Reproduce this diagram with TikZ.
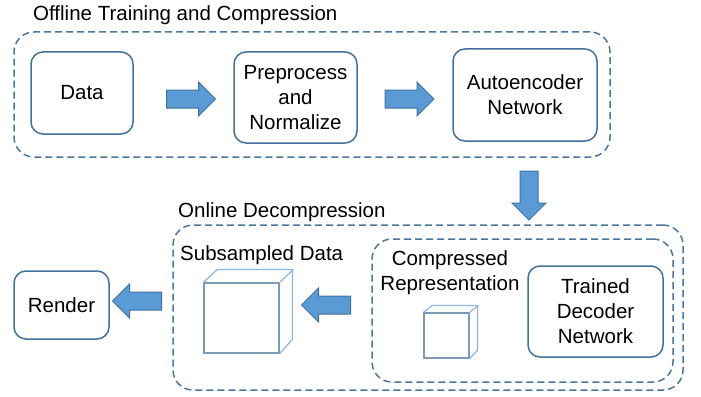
\documentclass[tikz,border=0pt]{standalone}
\usepackage{fontspec}
\setmainfont{Liberation Sans}
\usetikzlibrary{shapes.arrows}
\definecolor{boxline}{HTML}{41719C}
\definecolor{dashline}{HTML}{4A76A0}
\definecolor{arrowfill}{HTML}{5B9BD5}
\definecolor{arrowline}{HTML}{41719C}
\definecolor{cubefront}{HTML}{7D99B5}
\definecolor{cubeback}{HTML}{8DB4E2}

\begin{document}
\begin{tikzpicture}[
  x=1pt,y=-1pt,
  every node/.style={font=\fontsize{20.5}{25}\selectfont, text=black},
  stagebox/.style={draw=boxline, fill=white, rounded corners=12pt,
    line width=1.5pt, align=center, inner sep=0pt},
  groupbox/.style={draw=dashline, rounded corners=20pt, line width=1.5pt,
    dash pattern=on 7pt off 4pt, inner sep=0pt},
  blockarrow/.style={single arrow, draw=arrowline, fill=arrowfill,
    line width=1pt, minimum height=49pt, minimum width=34pt,
    single arrow head extend=8pt, inner sep=8.5pt},
  cubeface/.style={draw=cubefront, fill=white, line width=1.2pt,
    inner sep=0pt},
  cubeedge/.style={draw=cubeback, line width=1.2pt, line join=round}
]
\useasboundingbox (0,0) rectangle (701,396);

% Group frames and their titles.
\node[groupbox, minimum width=596pt, minimum height=125pt]
  (offline) at (312,94.5) {};
\node[groupbox, minimum width=510pt, minimum height=165pt]
  (online) at (428,307.5) {};
\node[groupbox, minimum width=301pt, minimum height=143pt]
  (decode) at (522.5,310.5) {};

\node[anchor=west, inner sep=0pt] (offlinetitle) at (33,15)
  {Offline Training and Compression};
\node[anchor=west, inner sep=0pt] (onlinetitle) at (178,212)
  {Online Decompression};

% Offline stages.
\node[stagebox, minimum width=102pt, minimum height=82pt]
  (data) at (82,93) {Data};
\node[stagebox, minimum width=123pt, minimum height=91pt]
  (prep) at (295.5,97.5) {Preprocess\\and\\Normalize};
\node[stagebox, minimum width=144pt, minimum height=92pt]
  (auto) at (525,95) {Autoencoder\\Network};

\node[blockarrow] (toprep) at (186.5,99) {};
\node[blockarrow] (toauto) at (405,99) {};
\node[blockarrow, shape border rotate=270] (todecode) at (529,191) {};

% Online stages.
\node[stagebox, minimum width=95pt, minimum height=68pt]
  (render) at (61.5,305) {Render};
\node[stagebox, minimum width=135pt, minimum height=91pt]
  (decoder) at (595.5,311.5) {Trained\\Decoder\\Network};

\node[anchor=west, inner sep=0pt] (sublabel) at (180,255)
  {Subsampled Data};
\node[align=center, inner sep=0pt] (complabel) at (450,272.5)
  {Compressed\\Representation};

% Volumes drawn as cubes.
\node[cubeface, minimum width=75pt, minimum height=70pt]
  (bigcube) at (241.5,318) {};
\draw[cubeedge] (bigcube.north west) -- ++(14,-13) -- ++(75,0)
  -- ++(0,70) -- (bigcube.south east);
\draw[cubeedge] (bigcube.north east) -- ++(14,-13);

\node[cubeface, minimum width=45pt, minimum height=45pt]
  (smallcube) at (446.5,335.5) {};
\draw[cubeedge] (smallcube.north west) -- ++(9,-7) -- ++(45,0)
  -- ++(0,45) -- (smallcube.south east);
\draw[cubeedge] (smallcube.north east) -- ++(9,-7);

\node[blockarrow, shape border rotate=180] (tosub) at (330.5,305) {};
\node[blockarrow, shape border rotate=180] (torender) at (141.5,301) {};

\end{tikzpicture}
\end{document}
